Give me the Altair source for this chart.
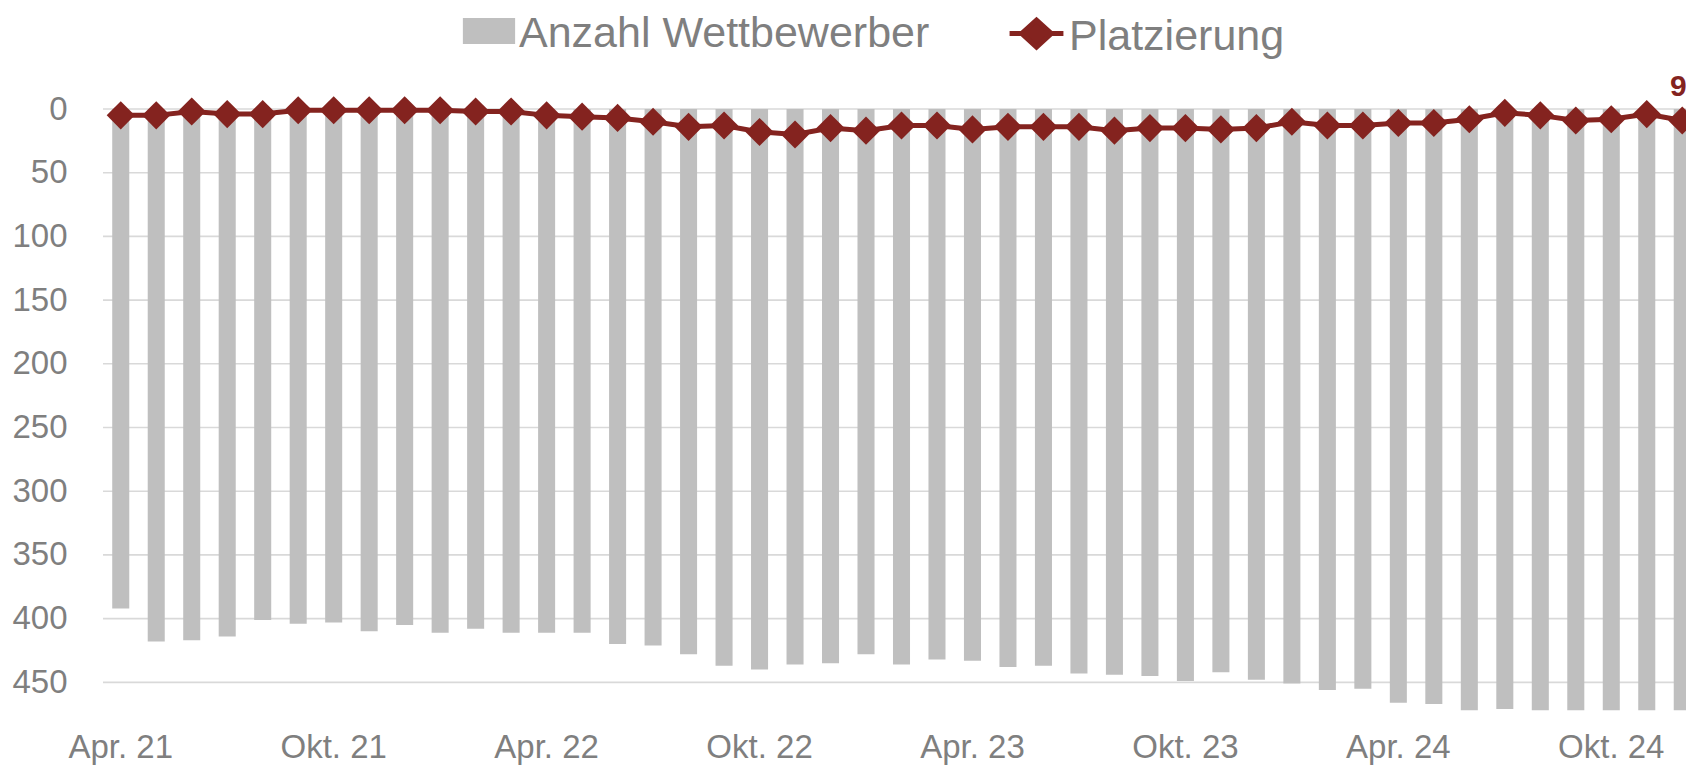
import altair as alt
import pandas as pd

# ---- data ----
monate_de = ["Jan.", "Feb.", "Mrz.", "Apr.", "Mai", "Jun.", "Jul.", "Aug.", "Sep.", "Okt.", "Nov.", "Dez."]
monat = []
m, jahr = 3, 21
for _ in range(45):
    monat.append(f"{monate_de[m]} {jahr}")
    m += 1
    if m == 12:
        m, jahr = 0, jahr + 1

anzahl = [392, 418, 417, 414, 401, 404, 403, 410, 405, 411,
          408, 411, 411, 411, 420, 421, 428, 437, 440, 436,
          435, 428, 436, 432, 433, 438, 437, 443, 444, 445,
          449, 442, 448, 451, 456, 455, 466, 467, 472, 471,
          472, 472, 472, 472, 472]

platz = [5, 5, 2, 4, 4, 1, 1, 1, 1, 1,
         2, 2, 5, 6, 7, 10, 14, 13, 18, 20,
         15, 17, 13, 13, 16, 14, 14, 14, 17, 15,
         15, 16, 15, 10, 13, 13, 11, 11, 8, 3,
         5, 9, 8, 4, 9]

reihe_bar = "Anzahl Wettbewerber"
reihe_line = "Platzierung"
y_ticks = [0, 50, 100, 150, 200, 250, 300, 350, 400, 450]

df = pd.DataFrame({"Monat": monat, "Anzahl": anzahl, "Platz": platz})
df_grid = pd.DataFrame({"Wert": y_ticks})

# ---- style ----
GRAU = "#bfbfbf"
ROT = "#84231f"
TEXT = "#7f7f7f"
GRID = "#d9d9d9"
FONT = "Liberation Sans"

x_enc = alt.X(
    "Monat:N",
    sort=monat,
    scale=alt.Scale(paddingInner=0.52, paddingOuter=0.26),
    axis=alt.Axis(
        title=None,
        labelExpr="(indexof(datum.label, 'Apr') === 0 || indexof(datum.label, 'Okt') === 0) ? datum.label : ''",
        labelAngle=0,
        labelOverlap=False,
        ticks=False,
        tickSize=0,
        domain=False,
        grid=False,
        labelPadding=13,
        labelFontSize=33,
        labelColor=TEXT,
        labelFont=FONT,
    ),
)

y_scale = alt.Scale(domain=[0, 478], reverse=True, nice=False, zero=True)
y_axis = alt.Axis(
    title=None,
    values=y_ticks,
    grid=False,
    domain=False,
    ticks=False,
    tickSize=0,
    labelPadding=36,
    labelFontSize=33,
    labelColor=TEXT,
    labelFont=FONT,
)

# legend symbols (shifted up a little so they sit level with the text)
line_sym = "M-1,-0.11H1M0,-0.61L0.55,-0.11L0,0.39L-0.55,-0.11Z"
rect_sym = "M-0.97,-0.59H0.97V0.37H-0.97Z"

legend_common = dict(
    title=None,
    orient="none",
    direction="horizontal",
    labelColor=TEXT,
    labelFont=FONT,
    labelLimit=2000,
    labelOffset=3,
    symbolSize=2900,
    padding=0,
    symbolOpacity=1,
)

legend_bar = alt.Legend(
    legendX=359, legendY=-102, labelFontSize=43,
    symbolType=rect_sym, symbolStrokeWidth=0, symbolFillColor=GRAU,
    **legend_common,
)
legend_line = alt.Legend(
    legendX=904, legendY=-102, labelFontSize=43,
    symbolType=line_sym, symbolStrokeWidth=5, symbolFillColor=ROT, symbolStrokeColor=ROT,
    **legend_common,
)

grid = alt.Chart(df_grid).mark_rule(color=GRID, strokeWidth=1.6).encode(
    y=alt.Y("Wert:Q", scale=y_scale, axis=y_axis),
)

base = alt.Chart(df)

bars = base.transform_calculate(Reihe=f"'{reihe_bar}'").mark_bar(opacity=1).encode(
    x=x_enc,
    y=alt.Y("Anzahl:Q", scale=y_scale, axis=y_axis),
    fill=alt.Fill("Reihe:N", scale=alt.Scale(domain=[reihe_bar], range=[GRAU]), legend=legend_bar),
)

line = base.transform_calculate(Reihe=f"'{reihe_line}'").mark_line(strokeWidth=5).encode(
    x=x_enc,
    y=alt.Y("Platz:Q", scale=y_scale, axis=y_axis),
    stroke=alt.Stroke("Reihe:N", scale=alt.Scale(domain=[reihe_line], range=[ROT]), legend=legend_line),
)

points = base.mark_point(
    shape="diamond", filled=True, size=790, opacity=1, color=ROT
).encode(
    x=x_enc,
    y=alt.Y("Platz:Q", scale=y_scale, axis=y_axis),
)

label = base.transform_filter(alt.datum.Monat == monat[-1]).mark_text(
    dy=-33, dx=-4, fontSize=30, fontWeight="bold", color=ROT, baseline="middle", align="center", font=FONT
).encode(
    x=x_enc,
    y=alt.Y("Platz:Q", scale=y_scale, axis=y_axis),
    text="Platz:Q",
)

chart = (
    alt.layer(grid, bars, line, points, label)
    .resolve_scale(fill="independent", stroke="independent")
    .properties(
        width=1597,
        height=609,
        padding={"left": 95, "top": 101, "right": -14, "bottom": 47},
        autosize=alt.AutoSizeParams(type="none"),
        background="white",
        view=alt.ViewBackground(stroke="transparent", strokeWidth=0, strokeOpacity=0),
    )
    .configure_view(stroke="transparent", strokeWidth=0, strokeOpacity=0)
    .configure_axis(domain=False, ticks=False, grid=False)
    .configure(font=FONT)
)

chart.save("out.html", embed_options={"renderer": "svg", "actions": False})
